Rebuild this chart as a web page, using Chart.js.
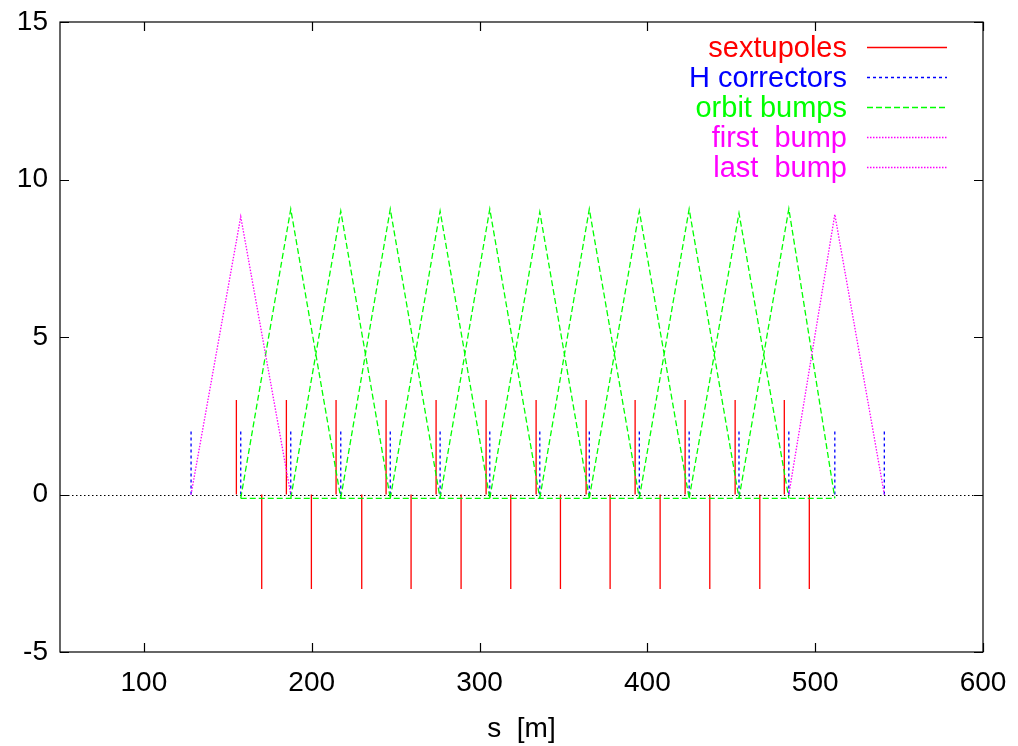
<!DOCTYPE html>
<html>
<head>
<meta charset="utf-8">
<title>orbit bumps</title>
<script src="https://cdn.jsdelivr.net/npm/chart.js@4.4.1/dist/chart.umd.min.js"></script>
<style>
  html, body { margin: 0; padding: 0; background: #fff; }
  #wrap { width: 1018px; height: 746px; position: relative; }
</style>
</head>
<body>
<div id="wrap"><canvas id="bumpChart"></canvas></div>
<script>
// positions along the ring, s [m]
const sextupolesPlus = [155.1, 184.9, 214.5, 244.3, 274.1, 303.9, 333.7, 363.5, 392.7, 422.5, 452.3, 481.6];
const sextupolesMinus = [170.2, 199.8, 229.8, 259.2, 289.0, 318.6, 348.2, 377.8, 407.6, 437.2, 467.0, 496.5];
const sextupoleHeight = 3;
const correctorS = [128.1, 157.7, 187.5, 217.3, 246.8, 276.5, 306.1, 335.9, 365.4, 395.2, 424.9, 454.6, 484.3, 511.7, 541.2];
const correctorHeight = 2;
// green bump peaks sit on correctorS[2] .. correctorS[12]
const bumpPeaks = [9.06, 9.0, 9.06, 9.0, 9.06, 8.97, 9.06, 9.0, 9.06, 8.93, 9.07];
const bumpFloor = -0.12;
const firstBumpPeak = 8.82;
const lastBumpPeak = 8.89;
const xTicks = [100, 200, 300, 400, 500, 600];
const yTicks = [-5, 0, 5, 10, 15];

const FONT = "'Liberation Sans', Arial, Helvetica, sans-serif";

function spikes(list, h) {
  const pts = [];
  list.forEach((s) => {
    pts.push({ x: s, y: 0 }, { x: s, y: h }, { x: s, y: null });
  });
  return pts;
}

function triangle(i0, peak, floor) {
  return [
    { x: correctorS[i0], y: floor },
    { x: correctorS[i0 + 1], y: peak },
    { x: correctorS[i0 + 2], y: floor },
    { x: correctorS[i0 + 2], y: null },
  ];
}

const sextData = spikes(sextupolesPlus, sextupoleHeight).concat(spikes(sextupolesMinus, -sextupoleHeight));
const corrData = spikes(correctorS, correctorHeight);

let bumpData = [
  { x: correctorS[1], y: bumpFloor },
  { x: correctorS[13], y: bumpFloor },
  { x: correctorS[13], y: null },
];
bumpPeaks.forEach((p, k) => {
  bumpData = bumpData.concat(triangle(k + 1, p, bumpFloor));
});

const firstData = triangle(0, firstBumpPeak, 0);
const lastData = triangle(12, lastBumpPeak, 0);

function series(label, data, color, dash, order) {
  return {
    label,
    data,
    borderColor: color,
    backgroundColor: color,
    borderWidth: 1.3,
    borderDash: dash,
    showLine: true,
    pointRadius: 0,
    spanGaps: false,
    tension: 0,
    order,
  };
}

// gnuplot style frame: inward ticks on all sides, dotted zero axis, key top right
const framePlugin = {
  id: "frame",
  beforeDatasetsDraw(chart) {
    const { ctx, chartArea: a, scales } = chart;
    const y0 = Math.round(scales.y.getPixelForValue(0)) + 0.5;
    ctx.save();
    ctx.strokeStyle = "#000";
    ctx.lineWidth = 1;
    ctx.setLineDash([1.5, 2.5]);
    ctx.beginPath();
    ctx.moveTo(a.left, y0);
    ctx.lineTo(a.right, y0);
    ctx.stroke();
    ctx.restore();
  },
  afterDatasetsDraw(chart) {
    const { ctx, chartArea: a, scales } = chart;
    const tl = 9;
    ctx.save();
    ctx.strokeStyle = "#000";
    ctx.lineWidth = 1.2;
    ctx.strokeRect(a.left, a.top, a.right - a.left, a.bottom - a.top);
    ctx.beginPath();
    xTicks.forEach((v) => {
      const px = Math.round(scales.x.getPixelForValue(v)) + 0.5;
      ctx.moveTo(px, a.bottom); ctx.lineTo(px, a.bottom - tl);
      ctx.moveTo(px, a.top); ctx.lineTo(px, a.top + tl);
    });
    yTicks.forEach((v) => {
      const py = Math.round(scales.y.getPixelForValue(v)) + 0.5;
      ctx.moveTo(a.left, py); ctx.lineTo(a.left + tl, py);
      ctx.moveTo(a.right, py); ctx.lineTo(a.right - tl, py);
    });
    ctx.stroke();

    // key
    ctx.font = "29px " + FONT;
    ctx.textAlign = "right";
    ctx.textBaseline = "alphabetic";
    chart.data.datasets.forEach((ds, i) => {
      const ly = a.top + 25 + 30 * i;
      ctx.fillStyle = ds.borderColor;
      ctx.fillText(ds.label, a.right - 136, ly + 10);
      ctx.strokeStyle = ds.borderColor;
      ctx.lineWidth = 1.3;
      ctx.setLineDash(ds.borderDash || []);
      ctx.beginPath();
      ctx.moveTo(a.right - 116, Math.round(ly) + 0.5);
      ctx.lineTo(a.right - 36, Math.round(ly) + 0.5);
      ctx.stroke();
    });
    ctx.restore();
  },
};

new Chart(document.getElementById("bumpChart"), {
  type: "scatter",
  data: {
    datasets: [
      series("sextupoles", sextData, "#ff0000", [], 5),
      series("H correctors", corrData, "#0000ff", [3, 3], 4),
      series("orbit bumps", bumpData, "#00ff00", [6, 3], 3),
      series("first  bump", firstData, "#ff00ff", [1.5, 1.5], 2),
      series("last  bump", lastData, "#ff00ff", [1.5, 1.5], 1),
    ],
  },
  options: {
    responsive: true,
    maintainAspectRatio: false,
    animation: false,
    layout: { padding: { top: 22, right: 35, left: 0, bottom: 0 } },
    plugins: {
      legend: { display: false },
      tooltip: { enabled: false },
    },
    scales: {
      x: {
        type: "linear",
        min: 50,
        max: 600,
        afterBuildTicks: (scale) => { scale.ticks = xTicks.map((v) => ({ value: v })); },
        afterFit: (scale) => {
          scale.height = 94;
          scale.paddingLeft = 0;
          scale.paddingRight = 0;
        },
        grid: { display: false, drawTicks: false },
        border: { display: false },
        ticks: { color: "#000", padding: 14, font: { family: FONT, size: 28 } },
        title: { display: true, text: "s  [m]", color: "#000", padding: { top: 0, bottom: 0 }, font: { family: FONT, size: 28 } },
      },
      y: {
        type: "linear",
        min: -5,
        max: 15,
        afterBuildTicks: (scale) => { scale.ticks = yTicks.map((v) => ({ value: v })); },
        afterFit: (scale) => {
          scale.width = 60;
          scale.paddingTop = 0;
          scale.paddingBottom = 0;
        },
        grid: { display: false, drawTicks: false },
        border: { display: false },
        ticks: { color: "#000", padding: 12, font: { family: FONT, size: 28 } },
      },
    },
  },
  plugins: [framePlugin],
});
</script>
</body>
</html>
